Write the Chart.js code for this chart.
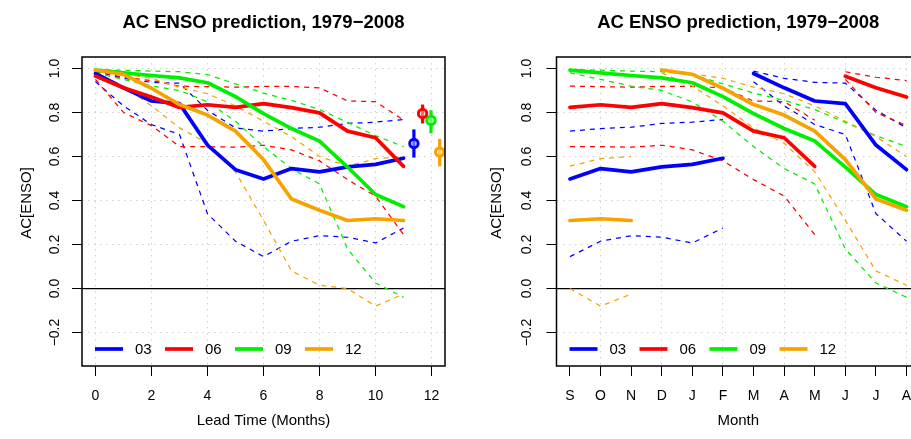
<!DOCTYPE html>
<html>
<head>
<meta charset="utf-8">
<script src="https://cdn.jsdelivr.net/npm/chart.js@4.4.1/dist/chart.umd.min.js"></script>
<style>
  html, body { margin: 0; padding: 0; background: #fff; overflow: hidden; width: 911px; height: 439px; }
  canvas { position: absolute; top: 0; }
  #leadChart { left: 0; }
  #monthChart { left: 470px; }
</style>
</head>
<body>
<canvas id="leadChart" width="456" height="439"></canvas>
<canvas id="monthChart" width="462" height="439"></canvas>
<script>
// lead time in months, start months and where lead 0 falls on the S..A axis
const leads = [0, 1, 2, 3, 4, 5, 6, 7, 8, 9, 10, 11];
const startNames = ["03", "06", "09", "12"];
const startPos = [6, 9, 0, 3];
const colors = ["#0000ff", "#ff0000", "#00ee00", "#f5a300"];
const monthLabels = ["S", "O", "N", "D", "J", "F", "M", "A", "M", "J", "J", "A"];

const leadTicks = [0, 2, 4, 6, 8, 10, 12];
const monthTicks = [0, 1, 2, 3, 4, 5, 6, 7, 8, 9, 10, 11];
const acTicks = [-0.2, 0, 0.2, 0.4, 0.6, 0.8, 1.0];

// AC by lead time (solid = mean, dashed = upper / lower)
const acMean03 = [0.977, 0.912, 0.852, 0.84, 0.652, 0.54, 0.498, 0.545, 0.53, 0.553, 0.564, 0.592];
const acHi03 = [0.988, 0.955, 0.937, 0.933, 0.81, 0.73, 0.715, 0.727, 0.733, 0.75, 0.756, 0.768];
const acLo03 = [0.94, 0.83, 0.745, 0.70, 0.34, 0.215, 0.145, 0.215, 0.24, 0.233, 0.207, 0.275];

const acMean06 = [0.965, 0.912, 0.87, 0.823, 0.835, 0.823, 0.84, 0.822, 0.798, 0.715, 0.685, 0.555];
const acHi06 = [0.985, 0.96, 0.945, 0.92, 0.917, 0.915, 0.918, 0.918, 0.912, 0.852, 0.849, 0.765];
const acLo06 = [0.95, 0.80, 0.74, 0.645, 0.645, 0.642, 0.651, 0.63, 0.58, 0.495, 0.42, 0.245];

const acMean09 = [0.992, 0.98, 0.968, 0.957, 0.935, 0.872, 0.795, 0.727, 0.67, 0.552, 0.427, 0.372];
const acHi09 = [0.995, 0.992, 0.988, 0.985, 0.972, 0.93, 0.888, 0.855, 0.813, 0.755, 0.695, 0.645];
const acLo09 = [0.98, 0.95, 0.92, 0.90, 0.848, 0.76, 0.645, 0.545, 0.475, 0.18, 0.025, -0.04];

const acMean12 = [0.993, 0.973, 0.91, 0.836, 0.788, 0.715, 0.586, 0.407, 0.356, 0.309, 0.317, 0.309];
const acHi12 = [0.995, 0.975, 0.955, 0.915, 0.885, 0.83, 0.76, 0.69, 0.60, 0.556, 0.59, 0.60];
const acLo12 = [0.98, 0.92, 0.83, 0.73, 0.66, 0.53, 0.31, 0.08, 0.015, 0.0, -0.08, -0.025];

// error bars at the right of the lead-time panel
const errX = [11.37, 11.68, 11.98, 12.29];
const errMid = [0.659, 0.795, 0.764, 0.62];
const errLo = [0.595, 0.75, 0.705, 0.555];
const errHi = [0.723, 0.836, 0.81, 0.68];

const means = [acMean03, acMean06, acMean09, acMean12];
const highs = [acHi03, acHi06, acHi09, acHi12];
const lows = [acLo03, acLo06, acLo09, acLo12];

const FONT = '"Liberation Sans", Arial, Helvetica, sans-serif';
Chart.defaults.font.family = FONT;
Chart.defaults.color = "#000";

function pts(values) {
  return values.map((v, i) => ({ x: leads[i], y: v }));
}

// re-index a lead series onto the target month axis, breaking at A -> S
function byMonth(values, start) {
  const runs = [[]];
  values.forEach((v, lead) => {
    const m = (start + lead) % 12;
    if (lead > 0 && m === 0) runs.push([]);
    runs[runs.length - 1].push({ x: m, y: v });
  });
  return runs;
}

function lineSet(data, color, solid, order) {
  return {
    data: data,
    borderColor: color,
    borderWidth: solid ? 3.7 : 1.25,
    borderDash: solid ? [] : [5, 5],
    borderCapStyle: solid ? "round" : "butt",
    borderJoinStyle: "round",
    pointRadius: 0,
    fill: false,
    tension: 0,
    order: order
  };
}

const leadSets = [];
const monthSets = [];
colors.forEach((c, i) => {
  leadSets.push(lineSet(pts(means[i]), c, true, 5 - i));
  leadSets.push(lineSet(pts(highs[i]), c, false, 20 - i));
  leadSets.push(lineSet(pts(lows[i]), c, false, 20 - i));
  leadSets.push({
    data: [{ x: errX[i], y: errLo[i] }, { x: errX[i], y: errHi[i] }],
    borderColor: c, borderWidth: 3.2, pointRadius: 0, order: 0.5
  });
  leadSets.push({
    data: [{ x: errX[i], y: errMid[i] }],
    showLine: false, pointRadius: 4.2, pointBorderWidth: 3,
    pointBorderColor: c, pointBackgroundColor: "rgba(255,255,255,0.4)", order: 0
  });

  byMonth(means[i], startPos[i]).forEach(r => monthSets.push(lineSet(r, c, true, 5 - i)));
  byMonth(highs[i], startPos[i]).forEach(r => monthSets.push(lineSet(r, c, false, 20 - i)));
  byMonth(lows[i], startPos[i]).forEach(r => monthSets.push(lineSet(r, c, false, 20 - i)));
});

const decor = {
  id: "panelDecor",
  beforeDatasetsDraw(chart) {
    const { ctx, chartArea: a, scales: { y } } = chart;
    const y0 = y.getPixelForValue(0);
    ctx.save();
    ctx.strokeStyle = "#000";
    ctx.lineWidth = 1.3;
    ctx.beginPath();
    ctx.moveTo(a.left, y0);
    ctx.lineTo(a.right, y0);
    ctx.stroke();
    ctx.restore();
  },
  afterDraw(chart, args, opts) {
    const { ctx, chartArea: a } = chart;
    ctx.save();
    ctx.strokeStyle = "#000";
    ctx.lineWidth = 1.5;
    ctx.strokeRect(a.left, a.top, a.right - a.left, a.bottom - a.top);

    const cx = (a.left + a.right) / 2;
    ctx.fillStyle = "#000";
    ctx.textAlign = "center";
    ctx.textBaseline = "alphabetic";
    ctx.font = "bold 18.5px " + FONT;
    ctx.fillText(opts.title, cx, 28);
    ctx.font = "15px " + FONT;
    ctx.fillText(opts.xTitle, cx, 425);

    ctx.save();
    ctx.translate(27, 203);
    ctx.rotate(-Math.PI / 2);
    ctx.textBaseline = "middle";
    ctx.fillText(opts.yTitle, 0, 0);
    ctx.restore();

    // legend, bottom left inside the box
    const ly = a.bottom - 17;
    ctx.textAlign = "left";
    ctx.textBaseline = "middle";
    ctx.font = "15px " + FONT;
    startNames.forEach((name, i) => {
      const lx = a.left + 13 + i * 70;
      ctx.strokeStyle = colors[i];
      ctx.lineWidth = 3.7;
      ctx.lineCap = "butt";
      ctx.beginPath();
      ctx.moveTo(lx, ly);
      ctx.lineTo(lx + 28, ly);
      ctx.stroke();
      ctx.fillText(name, lx + 40, ly + 0.5);
    });
    ctx.restore();
  }
};

function panelOptions(cfg) {
  return {
    responsive: false,
    animation: false,
    devicePixelRatio: 1,
    layout: { padding: { top: 57, right: cfg.padRight, left: 0, bottom: 0 } },
    plugins: {
      legend: { display: false },
      tooltip: { enabled: false },
      panelDecor: { title: "AC ENSO prediction, 1979\u22122008", xTitle: cfg.xTitle, yTitle: "AC[ENSO]" }
    },
    scales: {
      x: {
        type: "linear",
        min: cfg.xMin,
        max: cfg.xMax,
        afterBuildTicks: s => { s.ticks = cfg.xTicks.map(v => ({ value: v })); },
        afterFit: s => { s.height = 73; },
        ticks: {
          autoSkip: false, maxRotation: 0, minRotation: 0, padding: 12,
          font: { size: 14 },
          callback: cfg.xLabel
        },
        grid: {
          color: cfg.gridColor,
          lineWidth: 1,
          tickLength: 10,
          tickColor: "#000",
          tickWidth: 1
        },
        border: { display: false, dash: [1.5, 4.5] }
      },
      y: {
        type: "linear",
        min: -0.352,
        max: 1.052,
        afterBuildTicks: s => { s.ticks = acTicks.map(v => ({ value: v })); },
        afterFit: s => { s.width = cfg.axisWidth; },
        ticks: {
          minRotation: 90, maxRotation: 90, crossAlign: "center", padding: cfg.yPad,
          font: { size: 14 },
          callback: v => v.toFixed(1).replace("-", "\u2212")
        },
        grid: {
          color: "#cfcfcf",
          lineWidth: 1,
          tickLength: 10,
          tickColor: "#000",
          tickWidth: 1
        },
        border: { display: false, dash: [1.5, 4.5] }
      }
    }
  };
}

new Chart(document.getElementById("leadChart").getContext("2d"), {
  type: "line",
  data: { datasets: leadSets },
  options: panelOptions({
    xTitle: "Lead Time (Months)",
    xMin: -0.48, xMax: 12.48,
    xTicks: leadTicks,
    xLabel: v => String(v),
    gridColor: "#cfcfcf",
    axisWidth: 82, padRight: 11, yPad: 3
  }),
  plugins: [decor]
});

new Chart(document.getElementById("monthChart").getContext("2d"), {
  type: "line",
  data: { datasets: monthSets },
  options: panelOptions({
    xTitle: "Month",
    xMin: -0.44, xMax: 11.44,
    xTicks: monthTicks,
    xLabel: v => monthLabels[v],
    gridColor: c => (c.tick && c.tick.value % 2 === 1) ? "#cfcfcf" : "rgba(0,0,0,0)",
    axisWidth: 86.5, padRight: 12, yPad: 6
  }),
  plugins: [decor]
});
</script>
</body>
</html>
